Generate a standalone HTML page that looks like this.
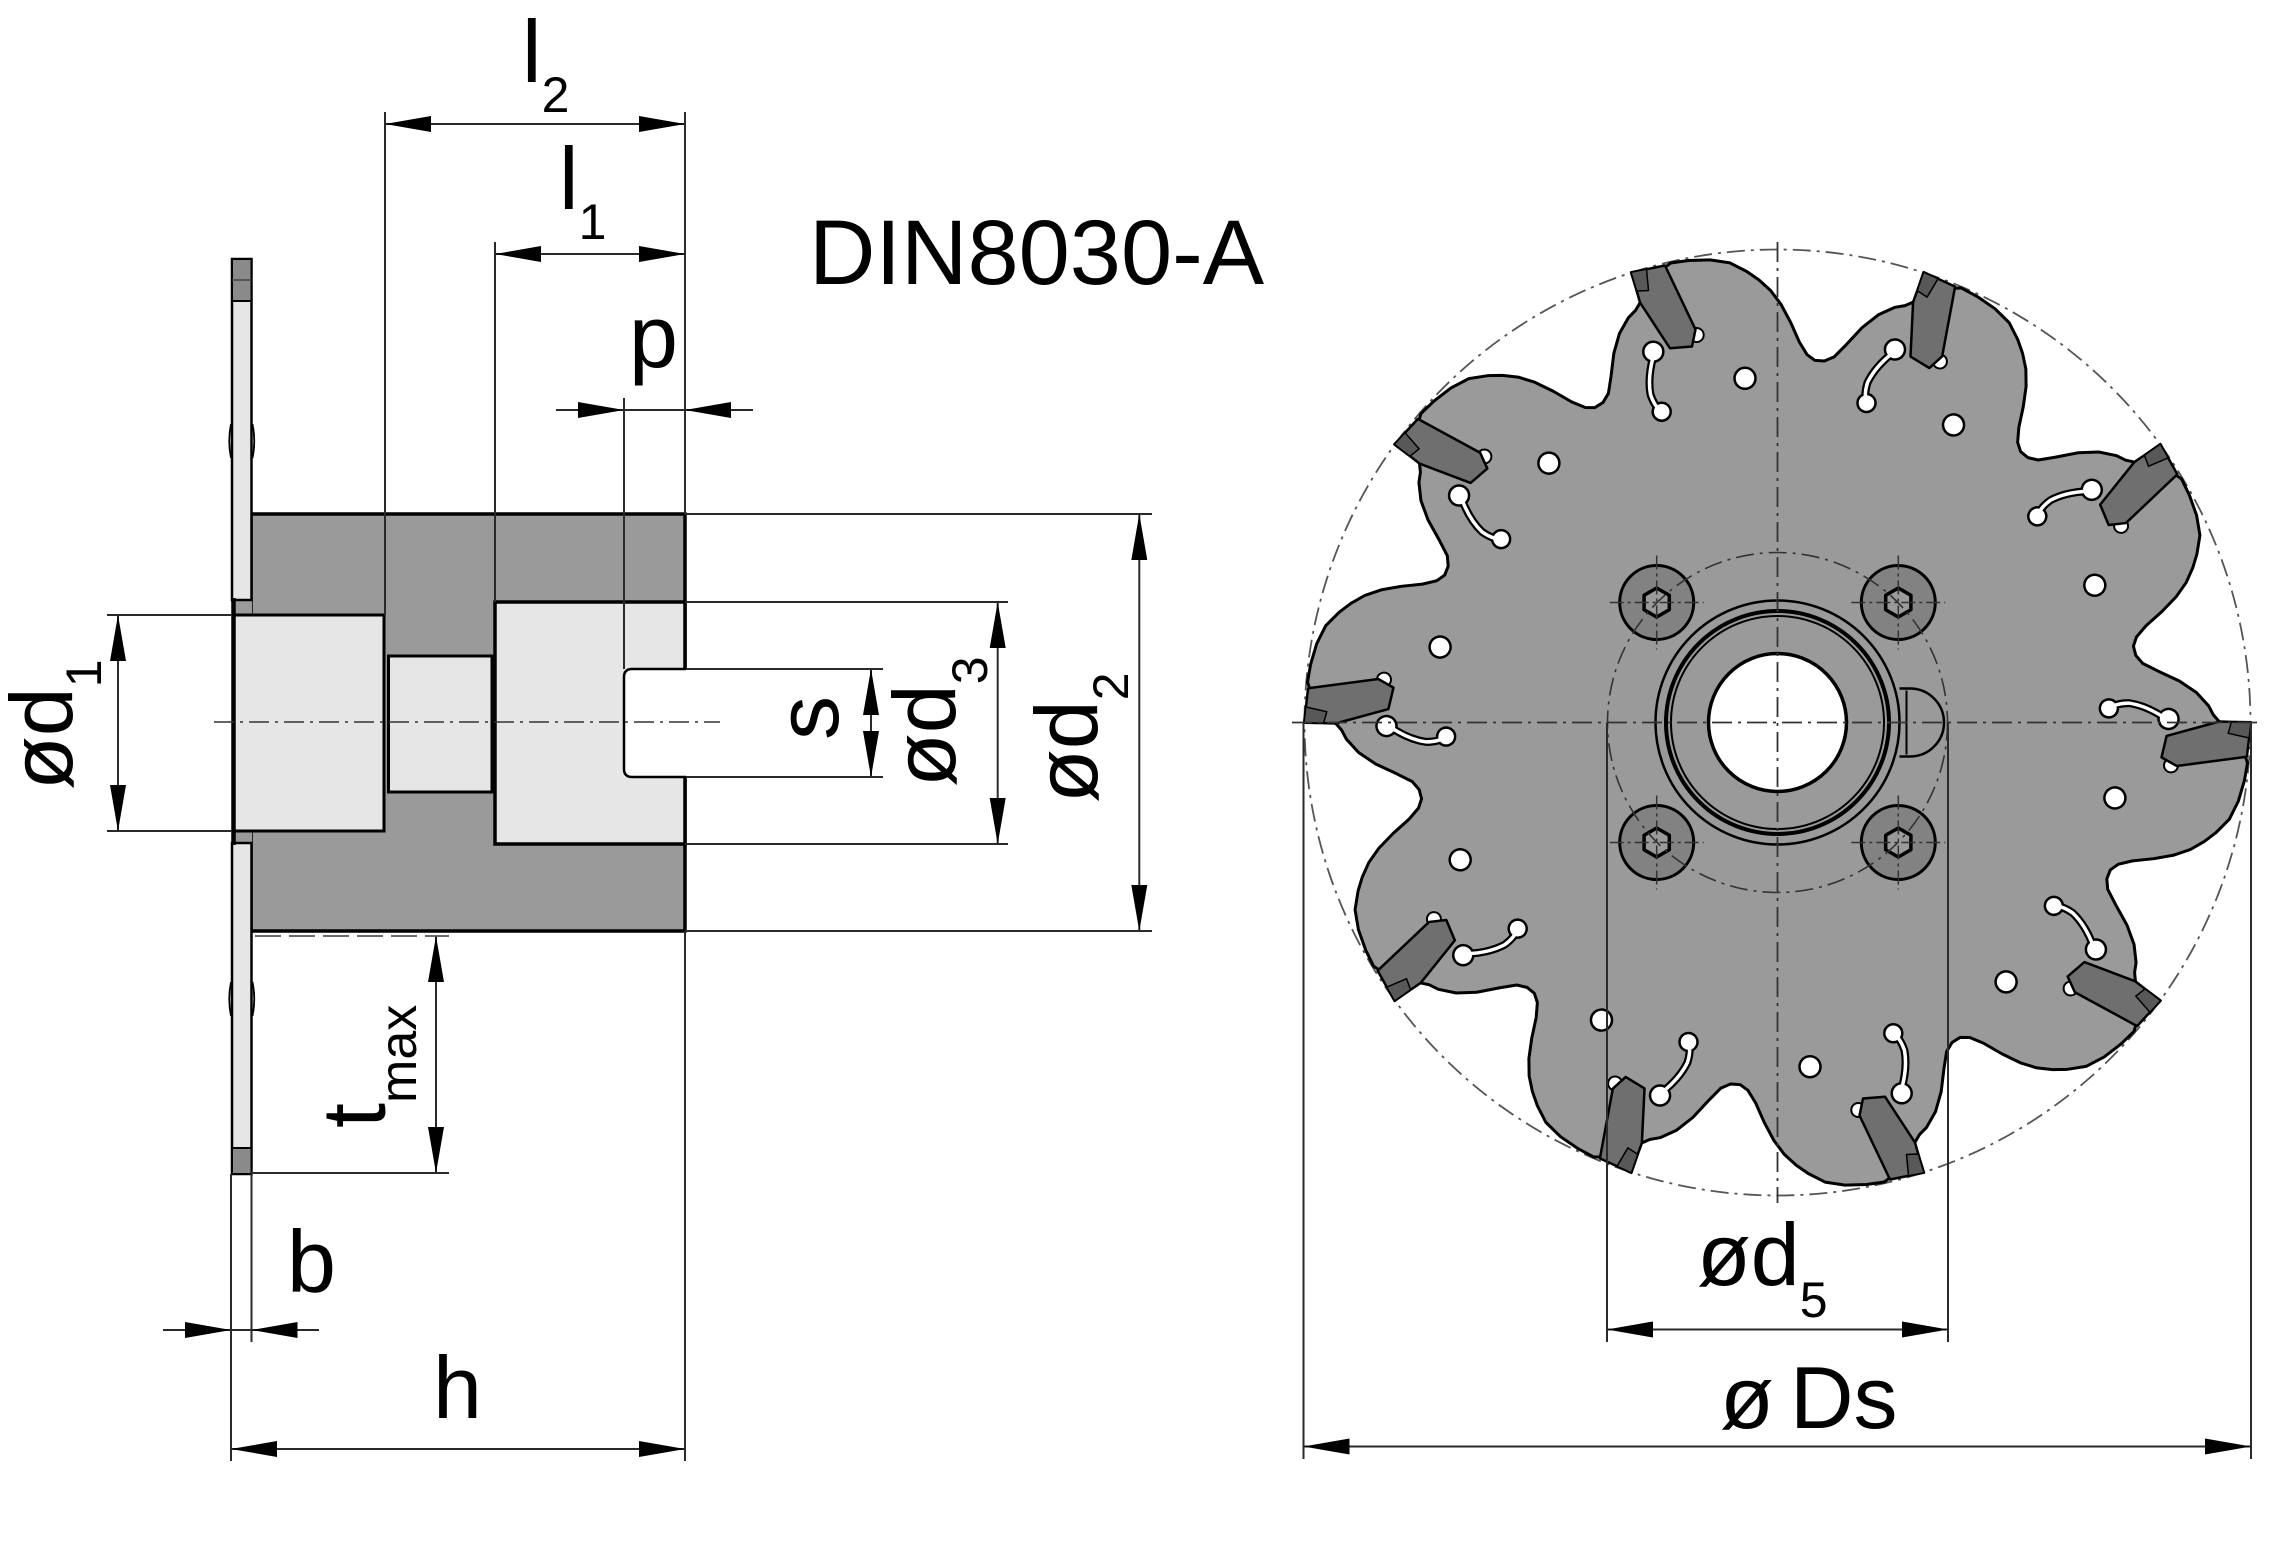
<!DOCTYPE html>
<html><head><meta charset="utf-8"><style>
html,body{margin:0;padding:0;background:#fff;}
svg{display:block;}
text{font-family:"Liberation Sans",Arial,sans-serif;fill:#000;}
</style></head><body>
<svg width="2294" height="1559" viewBox="0 0 2294 1559" xmlns="http://www.w3.org/2000/svg">
<defs>
 <path id="wedge" d="M0,0 L-141.9,-412.2 L-136.8,-420.8 L-140.8,-431.5 L-146.5,-450.2 L-112.5,-455.2 L-106.8,-459.5 L-89,-462 L-67.5,-462.6 L-47.5,-459.6 L-30.7,-451 L-18.6,-442.6 L-6.8,-431.9 L3.6,-418 L13.3,-399.8 L21.9,-380.4 L29.6,-367.8 L37.4,-362.1 L46.9,-361.5 L56.6,-365.6 L68.7,-377.8 L84.7,-395 L100.9,-407.7 L117.5,-415.2 L127.5,-416.9 L136.7,-420.9 Z" fill="#9a9a9a"/>
 <path id="outl" d="M-112.5,-455.2 L-106.8,-459.5 L-89,-462 L-67.5,-462.6 L-47.5,-459.6 L-30.7,-451 L-18.6,-442.6 L-6.8,-431.9 L3.6,-418 L13.3,-399.8 L21.9,-380.4 L29.6,-367.8 L37.4,-362.1 L46.9,-361.5 L56.6,-365.6 L68.7,-377.8 L84.7,-395 L100.9,-407.7 L117.5,-415.2 L127.5,-416.9 L136.7,-420.9" fill="none" stroke="#000" stroke-width="3" stroke-linejoin="round"/>
 <g id="feat">
  <circle cx="-32.5" cy="-344.2" r="10.5" fill="#fff" stroke="#000" stroke-width="2.5"/>
  <path d="M-124.2,-366 Q-130,-345 -127,-328 Q-123,-316 -115.8,-310.8" fill="none" stroke="#000" stroke-width="8" stroke-linecap="round"/>
  <circle cx="-124.2" cy="-370.8" r="10" fill="#fff" stroke="#000" stroke-width="2.5"/>
  <circle cx="-115.8" cy="-310.8" r="9" fill="#fff" stroke="#000" stroke-width="2.5"/>
  <path d="M-124.2,-366 Q-130,-345 -127,-328 Q-123,-316 -115.8,-310.8" fill="none" stroke="#fff" stroke-width="3.5" stroke-linecap="round"/>
  <circle cx="-80.8" cy="-387.5" r="7" fill="#fff" stroke="#000" stroke-width="2"/>
 </g>
 <g id="ins">
  <polygon points="-146.5,-450.2 -112.5,-457 -82,-393 -85.5,-376 -107.5,-374.2 -137.5,-420 -140.8,-431.5" fill="#6f6f6f" stroke="#000" stroke-width="2.5" stroke-linejoin="round"/>
  <polygon points="-146.5,-450.2 -131,-453.4 -129,-432 -140.8,-431.5" fill="#585858" stroke="#000" stroke-width="1.5" stroke-linejoin="round"/>
 </g>
 <g id="bolt">
  <circle cx="0" cy="0" r="37" fill="#828282" stroke="#000" stroke-width="3"/>
  <polygon points="0,-14.5 12.6,-7.25 12.6,7.25 0,14.5 -12.6,7.25 -12.6,-7.25" fill="#9a9a9a" stroke="#000" stroke-width="3.5" stroke-linejoin="round"/>
  <line x1="-47" y1="0" x2="47" y2="0" stroke="#333" stroke-width="1.5" stroke-dasharray="14 4 3 4"/>
  <line x1="0" y1="-47" x2="0" y2="47" stroke="#333" stroke-width="1.5" stroke-dasharray="14 4 3 4"/>
 </g>
</defs>

<!-- ================= LEFT VIEW ================= -->
<rect x="251" y="514" width="434" height="417" fill="#9a9a9a" stroke="#000" stroke-width="3.5"/>
<rect x="232" y="598" width="20" height="247" fill="#9a9a9a"/>
<rect x="232" y="259" width="19.5" height="341" fill="#e6e6e6" stroke="#000" stroke-width="2.5"/>
<rect x="232" y="259" width="19.5" height="42" fill="#8a8a8a" stroke="#000" stroke-width="2"/>
<line x1="232" y1="280" x2="251.5" y2="280" stroke="#444" stroke-width="1.5"/>
<rect x="232" y="843" width="19.5" height="331" fill="#e6e6e6" stroke="#000" stroke-width="2.5"/>
<rect x="232" y="1148" width="19.5" height="26" fill="#8a8a8a" stroke="#000" stroke-width="2"/>
<path d="M231,424 Q227.5,441 231,458" fill="none" stroke="#000" stroke-width="1.8"/>
<path d="M252.5,424 Q256,441 252.5,458" fill="none" stroke="#000" stroke-width="1.8"/>
<path d="M231,982 Q227.5,999 231,1016" fill="none" stroke="#000" stroke-width="1.8"/>
<path d="M252.5,982 Q256,999 252.5,1016" fill="none" stroke="#000" stroke-width="1.8"/>
<rect x="233" y="615" width="151" height="216" fill="#e6e6e6" stroke="#000" stroke-width="3"/>
<rect x="388.5" y="656" width="103.5" height="136" fill="#e6e6e6" stroke="#000" stroke-width="3"/>
<rect x="495" y="602" width="190" height="242" fill="#e6e6e6" stroke="#000" stroke-width="3.5"/>
<line x1="233.5" y1="598" x2="233.5" y2="845" stroke="#000" stroke-width="4.5"/>
<rect x="624" y="669" width="66" height="108" fill="#fff"/>
<path d="M686,669 L632,669 Q624,669 624,677 L624,769 Q624,777 632,777 L686,777" fill="none" stroke="#000" stroke-width="2.5"/>

<line x1="214" y1="722" x2="720" y2="722" stroke="#333" stroke-width="1.6" stroke-dasharray="20 6 3 6"/>

<g stroke="#2a2a2a" stroke-width="2" fill="none">
 <line x1="385" y1="112" x2="385" y2="615"/>
 <line x1="685" y1="112" x2="685" y2="514"/>
 <line x1="495" y1="242" x2="495" y2="602"/>
 <line x1="624" y1="398" x2="624" y2="669"/>
 <line x1="385" y1="124" x2="685" y2="124"/>
 <line x1="495" y1="254" x2="685" y2="254"/>
 <line x1="556" y1="410" x2="753" y2="410"/>
 <line x1="685" y1="514" x2="1152" y2="514"/>
 <line x1="685" y1="931" x2="1152" y2="931"/>
 <line x1="685" y1="602" x2="1008" y2="602"/>
 <line x1="685" y1="844" x2="1008" y2="844"/>
 <line x1="686" y1="669" x2="883" y2="669"/>
 <line x1="686" y1="777" x2="883" y2="777"/>
 <line x1="871" y1="669" x2="871" y2="777"/>
 <line x1="997.7" y1="602" x2="997.7" y2="844"/>
 <line x1="1139.3" y1="514" x2="1139.3" y2="931"/>
 <line x1="107" y1="615" x2="232" y2="615"/>
 <line x1="107" y1="831" x2="232" y2="831"/>
 <line x1="118" y1="615" x2="118" y2="831"/>
 <line x1="251" y1="1173" x2="449" y2="1173"/>
 <line x1="436" y1="936" x2="436" y2="1173"/>
 <line x1="231" y1="1174" x2="231" y2="1461"/>
 <line x1="251.5" y1="1174" x2="251.5" y2="1342"/>
 <line x1="685" y1="931" x2="685" y2="1461"/>
 <line x1="163" y1="1330" x2="319" y2="1330"/>
 <line x1="231" y1="1449" x2="685" y2="1449"/>
</g>
<line x1="255" y1="936" x2="449" y2="936" stroke="#555" stroke-width="1.8" stroke-dasharray="26 8"/>

<g fill="#000">
 <polygon points="385,124 431,116 431,132"/>
 <polygon points="685,124 639,116 639,132"/>
 <polygon points="495,254 541,246 541,262"/>
 <polygon points="685,254 639,246 639,262"/>
 <polygon points="624,410 578,402 578,418"/>
 <polygon points="685,410 731,402 731,418"/>
 <polygon points="231,1330 185,1322 185,1338"/>
 <polygon points="251.5,1330 297.5,1322 297.5,1338"/>
 <polygon points="231,1449 277,1441 277,1457"/>
 <polygon points="685,1449 639,1441 639,1457"/>
 <polygon points="118,615 110,661 126,661"/>
 <polygon points="118,831 110,785 126,785"/>
 <polygon points="871,669 863,715 879,715"/>
 <polygon points="871,777 863,731 879,731"/>
 <polygon points="997.7,602 989.7,648 1005.7,648"/>
 <polygon points="997.7,844 989.7,798 1005.7,798"/>
 <polygon points="1139.3,514 1131.3,560 1147.3,560"/>
 <polygon points="1139.3,931 1131.3,885 1147.3,885"/>
 <polygon points="436,936 428,982 444,982"/>
 <polygon points="436,1173 428,1127 444,1127"/>
</g>

<text x="522" y="82" font-size="88">l<tspan font-size="50" dy="30">2</tspan></text>
<text x="559" y="209" font-size="88">l<tspan font-size="50" dy="30">1</tspan></text>
<text x="629" y="367" font-size="88">p</text>
<text x="809" y="284" font-size="92">DIN8030-A</text>
<text x="287" y="1292" font-size="88">b</text>
<text x="433" y="1418" font-size="88">h</text>
<text transform="translate(72,790) rotate(-90)" font-size="88">ød<tspan font-size="50" dy="29">1</tspan></text>
<text transform="translate(385,1128) rotate(-90)" font-size="90">t<tspan font-size="52" dy="31">max</tspan></text>
<text transform="translate(838,740) rotate(-90)" font-size="88">s</text>
<text transform="translate(955,787) rotate(-90)" font-size="88">ød<tspan font-size="50" dy="32">3</tspan></text>
<text transform="translate(1097,803) rotate(-90)" font-size="88">ød<tspan font-size="50" dy="31">2</tspan></text>

<!-- ================= RIGHT VIEW ================= -->
<circle cx="1777.5" cy="722.5" r="473" fill="none" stroke="#555" stroke-width="1.8" stroke-dasharray="18 6 3 6"/>
<g transform="translate(1777.5,722.5)">
 <use href="#wedge"/>
 <use href="#wedge" transform="rotate(36)"/>
 <use href="#wedge" transform="rotate(72)"/>
 <use href="#wedge" transform="rotate(108)"/>
 <use href="#wedge" transform="rotate(144)"/>
 <use href="#wedge" transform="rotate(180)"/>
 <use href="#wedge" transform="rotate(216)"/>
 <use href="#wedge" transform="rotate(252)"/>
 <use href="#wedge" transform="rotate(288)"/>
 <use href="#wedge" transform="rotate(324)"/>
 <use href="#outl"/>
 <use href="#outl" transform="rotate(36)"/>
 <use href="#outl" transform="rotate(72)"/>
 <use href="#outl" transform="rotate(108)"/>
 <use href="#outl" transform="rotate(144)"/>
 <use href="#outl" transform="rotate(180)"/>
 <use href="#outl" transform="rotate(216)"/>
 <use href="#outl" transform="rotate(252)"/>
 <use href="#outl" transform="rotate(288)"/>
 <use href="#outl" transform="rotate(324)"/>
 <use href="#feat"/>
 <use href="#feat" transform="rotate(36)"/>
 <use href="#feat" transform="rotate(72)"/>
 <use href="#feat" transform="rotate(108)"/>
 <use href="#feat" transform="rotate(144)"/>
 <use href="#feat" transform="rotate(180)"/>
 <use href="#feat" transform="rotate(216)"/>
 <use href="#feat" transform="rotate(252)"/>
 <use href="#feat" transform="rotate(288)"/>
 <use href="#feat" transform="rotate(324)"/>
 <use href="#ins"/>
 <use href="#ins" transform="rotate(36)"/>
 <use href="#ins" transform="rotate(72)"/>
 <use href="#ins" transform="rotate(108)"/>
 <use href="#ins" transform="rotate(144)"/>
 <use href="#ins" transform="rotate(180)"/>
 <use href="#ins" transform="rotate(216)"/>
 <use href="#ins" transform="rotate(252)"/>
 <use href="#ins" transform="rotate(288)"/>
 <use href="#ins" transform="rotate(324)"/>

 <path d="M122,-34 L132.5,-34 A34,34 0 0 1 132.5,34 L122,34" fill="#9a9a9a" stroke="#000" stroke-width="2.5"/>
 <line x1="129" y1="-32" x2="129" y2="32" stroke="#000" stroke-width="2"/>
 <circle cx="0" cy="0" r="122" fill="#9a9a9a" stroke="#000" stroke-width="2.5"/>
 <circle cx="0" cy="0" r="111.5" fill="none" stroke="#000" stroke-width="4"/>
 <circle cx="0" cy="0" r="106.5" fill="none" stroke="#000" stroke-width="2"/>
 <circle cx="0" cy="0" r="69" fill="#fff" stroke="#000" stroke-width="3.5"/>
 <use href="#bolt" transform="translate(-120.8,-120)"/>
 <use href="#bolt" transform="translate(120.8,-120)"/>
 <use href="#bolt" transform="translate(-120.8,120)"/>
 <use href="#bolt" transform="translate(120.8,120)"/>
 <circle cx="0" cy="0" r="170" fill="none" stroke="#333" stroke-width="1.6" stroke-dasharray="18 6 3 6"/>
</g>

<line x1="1292" y1="722.5" x2="2262" y2="722.5" stroke="#333" stroke-width="1.8" stroke-dasharray="20 6 3 6"/>
<line x1="1777.5" y1="242" x2="1777.5" y2="1203" stroke="#333" stroke-width="1.8" stroke-dasharray="20 6 3 6"/>

<g stroke="#2a2a2a" stroke-width="2" fill="none">
 <line x1="1607" y1="722.5" x2="1607" y2="1342"/>
 <line x1="1948" y1="722.5" x2="1948" y2="1342"/>
 <line x1="1303.5" y1="722.5" x2="1303.5" y2="1459"/>
 <line x1="2251" y1="722.5" x2="2251" y2="1459"/>
 <line x1="1607" y1="1329.5" x2="1948" y2="1329.5"/>
 <line x1="1303.5" y1="1446.5" x2="2251" y2="1446.5"/>
</g>
<g fill="#000">
 <polygon points="1607,1329.5 1653,1321.5 1653,1337.5"/>
 <polygon points="1948,1329.5 1902,1321.5 1902,1337.5"/>
 <polygon points="1303.5,1446.5 1349.5,1438.5 1349.5,1454.5"/>
 <polygon points="2251,1446.5 2205,1438.5 2205,1454.5"/>
</g>
<text x="1697" y="1285" font-size="88">ød<tspan font-size="50" dy="32">5</tspan></text>
<text x="1720" y="1428" font-size="88">ø</text>
<text x="1790" y="1428" font-size="88">Ds</text>
</svg>
</body></html>
